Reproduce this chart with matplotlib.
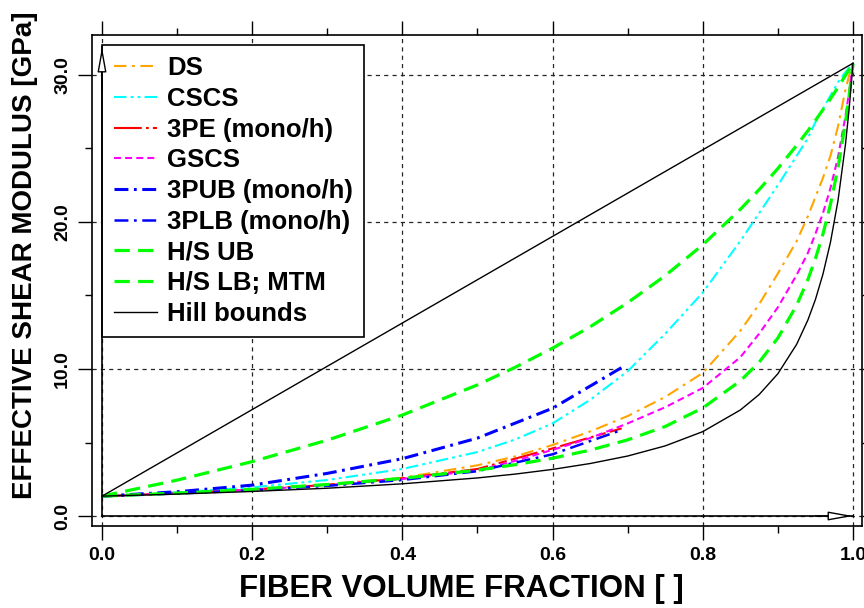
import matplotlib
matplotlib.use("Agg")
import matplotlib.pyplot as plt
from matplotlib.ticker import MultipleLocator, FormatStrFormatter

plt.rcParams['font.family'] = ['Liberation Sans', 'DejaVu Sans']
plt.rcParams['font.weight'] = 'bold'
plt.rcParams['lines.scale_dashes'] = False

# fiber volume fraction grid used when reading the curves
vf = [0.0, 0.1, 0.2, 0.3, 0.4, 0.5, 0.55, 0.6, 0.65, 0.7, 0.75, 0.8, 0.85, 0.875,
      0.9, 0.925, 0.94, 0.95, 0.96, 0.97, 0.98, 0.99, 0.995, 1.0]

ds = [1.35, 1.56, 1.80, 2.15, 2.60, 3.45, 4.05, 4.83, 5.75, 6.80, 8.10, 9.73, 12.6, 14.4,
      16.5, 18.7, 20.4, 21.7, 23.0, 24.5, 26.5, 29.0, 30.0, 30.8]
cscs = [1.35, 1.60, 1.95, 2.45, 3.20, 4.35, 5.20, 6.30, 7.90, 9.85, 12.4, 15.2, 18.7, 20.6,
        22.5, 24.5, 25.7, 26.8, 27.7, 28.6, 29.5, 30.2, 30.5, 30.8]
gscs = [1.35, 1.55, 1.78, 2.10, 2.52, 3.10, 3.75, 4.50, 5.30, 6.30, 7.40, 8.71, 10.8, 12.4,
        14.2, 16.4, 17.9, 19.2, 20.6, 22.3, 24.4, 27.2, 28.9, 30.8]
hs_ub = [1.35, 2.44, 3.70, 5.16, 6.87, 8.92, 10.11, 11.42, 12.87, 14.51, 16.35, 18.45, 20.86, 22.20,
         23.64, 25.21, 26.21, 26.91, 27.64, 28.38, 29.16, 29.97, 30.38, 30.8]
hs_lb = [1.35, 1.56, 1.81, 2.14, 2.56, 3.12, 3.49, 3.93, 4.48, 5.18, 6.09, 7.35, 9.19, 10.46,
         12.11, 14.34, 16.09, 17.51, 19.18, 21.20, 23.68, 26.78, 28.65, 30.8]
hill_lb = [1.35, 1.49, 1.67, 1.89, 2.19, 2.59, 2.85, 3.17, 3.57, 4.08, 4.77, 5.74, 7.21, 8.26,
           9.68, 11.68, 13.34, 14.73, 16.45, 18.62, 21.44, 25.28, 27.77, 30.8]

# three-phase models only go up to about 0.7
vf3 = [0.0, 0.1, 0.2, 0.3, 0.4, 0.5, 0.6, 0.692]
tpe = [1.35, 1.55, 1.79, 2.12, 2.56, 3.20, 4.60, 5.96]
tpub = [1.35, 1.65, 2.10, 2.90, 3.90, 5.30, 7.33, 10.1]
tplb = [1.35, 1.53, 1.75, 2.05, 2.45, 3.05, 4.20, 5.85]

hill_ub_x = [0.0, 1.0]
hill_ub = [1.35, 30.8]

fig = plt.figure(figsize=(8.64, 6.08), dpi=100)
ax = fig.add_axes([92 / 864, (608 - 526) / 608, 770 / 864, 491 / 608])

ax.plot(vf, ds, color='#FFA500', lw=1.5, dashes=(9, 4, 2, 4), label='DS')
ax.plot(vf, cscs, color='#00FFFF', lw=1.5, dashes=(9, 3, 2, 3, 2, 3), label='CSCS')
ax.plot(vf3, tpe, color='#FF0000', lw=1.5, dashes=(20, 3, 2, 3, 6, 3), label='3PE (mono/h)')
ax.plot(vf, gscs, color='#FF00FF', lw=1.5, dashes=(5, 3), label='GSCS')
ax.plot(vf3, tpub, color='#0000FF', lw=2.2, dashes=(10, 4, 2, 4), label='3PUB (mono/h)')
ax.plot(vf3, tplb, color='#0000FF', lw=1.8, dashes=(10, 4, 2, 4), label='3PLB (mono/h)')
ax.plot(vf, hs_ub, color='#00FF00', lw=2.3, dashes=(11, 6), label='H/S UB')
ax.plot(vf, hs_lb, color='#00FF00', lw=2.3, dashes=(11, 6), label='H/S LB; MTM')
ax.plot(hill_ub_x, hill_ub, color='black', lw=1.0, label='Hill bounds')
ax.plot(vf, hill_lb, color='black', lw=1.0)

# axis lines with open arrow heads, drawn above the legend
ax.plot([0.0, 1.0], [0.0, 0.0], color='black', lw=1.2, zorder=6)
ax.plot([0.0, 0.0], [0.0, 31.9], color='black', lw=1.2, zorder=6)
arrow_kw = dict(arrowstyle='-|>,head_length=1.5,head_width=0.27', mutation_scale=10,
                shrinkA=0, shrinkB=0, lw=1.0, fc='white', ec='black')
ax.annotate('', xy=(1.0, 0.0), xytext=(0.95, 0.0), arrowprops=arrow_kw, zorder=7)
ax.annotate('', xy=(0.0, 31.9), xytext=(0.0, 29.0), arrowprops=arrow_kw, zorder=7)

ax.set_xlim(-0.0133, 1.012)
ax.set_ylim(-0.68, 32.72)

ax.xaxis.set_major_locator(MultipleLocator(0.2))
ax.xaxis.set_minor_locator(MultipleLocator(0.1))
ax.yaxis.set_major_locator(MultipleLocator(10))
ax.yaxis.set_minor_locator(MultipleLocator(5))
ax.xaxis.set_major_formatter(FormatStrFormatter('%.1f'))
ax.yaxis.set_major_formatter(FormatStrFormatter('%.1f'))

ax.tick_params(which='both', direction='out', top=True, right=True, width=1.0)
ax.tick_params(which='major', length=10, labelsize=14, pad=5)
ax.tick_params(which='minor', length=5)
ax.tick_params(axis='y', labelrotation=90)
for lab in ax.get_yticklabels():
    lab.set_va('center')

ax.grid(True, which='major', color='0.15', lw=0.9, dashes=(3, 3))
for sp in ax.spines.values():
    sp.set_linewidth(1.2)

ax.set_xlabel('FIBER VOLUME FRACTION [ ]', fontsize=22.5, fontweight='bold')
ax.set_ylabel('EFFECTIVE SHEAR MODULUS [GPa]', fontsize=20, fontweight='bold')
ax.xaxis.set_label_coords((461 - 92) / 770, (526 - 574) / 491)
ax.yaxis.set_label_coords((38 - 92) / 770, (526 - 255) / 491)

leg = ax.legend(loc='upper left', bbox_to_anchor=(0.013, 0.98), borderaxespad=0,
                fontsize=18.5, handlelength=1.7, handletextpad=0.38, labelspacing=0.26,
                borderpad=0.45, fancybox=False, framealpha=1)
leg.get_frame().set_edgecolor('black')
leg.get_frame().set_linewidth(1.2)

fig.savefig('out.png', dpi=100)
